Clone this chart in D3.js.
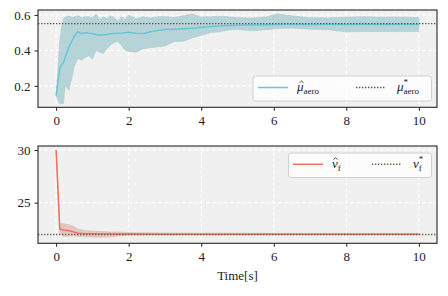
<!DOCTYPE html>
<html>
<head>
<meta charset="utf-8">
<script src="https://cdn.jsdelivr.net/npm/d3@7"></script>
<style>
  body { margin: 0; background: #fff; }
  svg { display: block; }
  svg text { font-family: "Liberation Serif", "Times New Roman", serif !important; fill: #222; }
</style>
</head>
<body>
<svg id="chart" width="448" height="296"></svg>
<script>
// ---- data ----
var muTime  = [0, 0.05, 0.1, 0.15, 0.2, 0.25, 0.3, 0.35, 0.4, 0.45, 0.5, 0.6, 0.7, 0.8, 0.9, 1.0, 1.1, 1.2, 1.3, 1.4, 1.5, 1.6, 1.7, 1.8, 1.9, 2.0, 2.2, 2.4, 2.6, 2.8, 3.0, 3.25, 3.5, 3.75, 4.0, 4.25, 4.5, 4.75, 5.0, 5.4, 5.8, 6.1, 6.5, 7.0, 7.5, 8.0, 8.5, 9.0, 9.5, 10.0];
var muMean  = [0.145, 0.22, 0.30, 0.32, 0.33, 0.36, 0.39, 0.42, 0.44, 0.46, 0.48, 0.505, 0.495, 0.50, 0.497, 0.495, 0.49, 0.485, 0.488, 0.49, 0.494, 0.496, 0.497, 0.498, 0.50, 0.502, 0.497, 0.495, 0.505, 0.512, 0.518, 0.52, 0.522, 0.525, 0.53, 0.535, 0.538, 0.54, 0.542, 0.543, 0.545, 0.546, 0.547, 0.546, 0.547, 0.546, 0.547, 0.546, 0.547, 0.546];
var muLow   = [0.145, 0.12, 0.10, 0.10, 0.10, 0.20, 0.19, 0.175, 0.22, 0.26, 0.31, 0.355, 0.345, 0.36, 0.37, 0.35, 0.40, 0.39, 0.383, 0.41, 0.43, 0.445, 0.45, 0.43, 0.40, 0.395, 0.39, 0.41, 0.415, 0.42, 0.425, 0.45, 0.452, 0.47, 0.485, 0.50, 0.505, 0.515, 0.518, 0.511, 0.517, 0.523, 0.526, 0.52, 0.516, 0.505, 0.507, 0.507, 0.506, 0.507];
var muHigh  = [0.15, 0.30, 0.45, 0.53, 0.575, 0.59, 0.59, 0.595, 0.59, 0.585, 0.59, 0.595, 0.585, 0.59, 0.59, 0.585, 0.605, 0.575, 0.59, 0.58, 0.595, 0.585, 0.565, 0.59, 0.575, 0.60, 0.58, 0.59, 0.583, 0.59, 0.592, 0.585, 0.595, 0.606, 0.589, 0.59, 0.593, 0.59, 0.585, 0.583, 0.59, 0.606, 0.595, 0.585, 0.583, 0.588, 0.59, 0.587, 0.588, 0.585];
var muTrue  = 0.551;

var vTime   = [0, 0.1, 0.2, 0.3, 0.4, 0.5, 0.6, 0.8, 1.0, 1.25, 1.5, 1.75, 2.0, 2.5, 3.0, 4.0, 5.0, 6.0, 7.0, 8.0, 9.0, 10.0];
var vMean   = [30.0, 22.5, 22.4, 22.35, 22.3, 22.2, 22.1, 22.05, 22.04, 22.02, 22.02, 22.02, 22.02, 22.01, 22.01, 22.01, 22.01, 22.01, 22.01, 22.01, 22.01, 22.01];
var vLow    = [30.0, 22.1, 21.8, 21.8, 21.85, 21.85, 21.8, 21.78, 21.75, 21.72, 21.76, 21.85, 21.92, 21.95, 21.95, 21.96, 21.96, 21.96, 21.96, 21.96, 21.96, 21.96];
var vHigh   = [30.0, 23.0, 23.0, 22.95, 22.85, 22.7, 22.5, 22.35, 22.3, 22.25, 22.22, 22.2, 22.15, 22.15, 22.12, 22.1, 22.1, 22.08, 22.08, 22.08, 22.08, 22.08];
var vTrue   = 21.97;

var xTicks    = [0, 2, 4, 6, 8, 10];
var muTicks   = [0.2, 0.4, 0.6];
var vTicks    = [25, 30];

var svg = d3.select("#chart");
var left = 38, right = 437;
var serif = "'Liberation Serif', 'Times New Roman', serif";

var x = d3.scaleLinear().domain([-0.5, 10.5]).range([left, right]);

function panel(top, bottom, yDomain, yTicks, yFmt, series) {
  var y = d3.scaleLinear().domain(yDomain).range([bottom, top]);
  var g = svg.append("g");

  g.append("rect")
      .attr("x", left).attr("y", top)
      .attr("width", right - left).attr("height", bottom - top)
      .attr("fill", "#f0f0f0");

  // grid
  g.append("g").selectAll("line").data(xTicks).enter().append("line")
      .attr("x1", function(d) { return x(d); }).attr("x2", function(d) { return x(d); })
      .attr("y1", top).attr("y2", bottom)
      .attr("stroke", "#fff").attr("stroke-width", 1).attr("stroke-dasharray", "4,2");
  g.append("g").selectAll("line").data(yTicks).enter().append("line")
      .attr("y1", function(d) { return y(d); }).attr("y2", function(d) { return y(d); })
      .attr("x1", left).attr("x2", right)
      .attr("stroke", "#fff").attr("stroke-width", 1).attr("stroke-dasharray", "4,2");

  var clip = "clip" + Math.round(top);
  svg.append("clipPath").attr("id", clip).append("rect")
      .attr("x", left).attr("y", top).attr("width", right - left).attr("height", bottom - top);
  var body = g.append("g").attr("clip-path", "url(#" + clip + ")");

  var idx = d3.range(series.time.length);
  body.append("path")
      .datum(idx)
      .attr("fill", series.band)
      .attr("stroke", series.bandEdge)
      .attr("stroke-width", 0.6)
      .attr("d", d3.area()
        .x(function(i) { return x(series.time[i]); })
        .y0(function(i) { return y(series.low[i]); })
        .y1(function(i) { return y(series.high[i]); }));

  body.append("path")
      .datum(idx)
      .attr("fill", "none")
      .attr("stroke", series.color)
      .attr("stroke-width", 1.5)
      .attr("d", d3.line()
        .x(function(i) { return x(series.time[i]); })
        .y(function(i) { return y(series.mean[i]); }));

  body.append("line")
      .attr("x1", left).attr("x2", right)
      .attr("y1", y(series.target)).attr("y2", y(series.target))
      .attr("stroke", series.dotColor).attr("stroke-width", 1.4)
      .attr("stroke-dasharray", "1.4,1.6");

  // axes
  var ax = g.append("g").attr("transform", "translate(0," + bottom + ")")
      .call(d3.axisBottom(x).tickValues(xTicks).tickSize(3.5).tickPadding(5).tickFormat(d3.format("d")));
  var ay = g.append("g").attr("transform", "translate(" + left + ",0)")
      .call(d3.axisLeft(y).tickValues(yTicks).tickSize(3.5).tickPadding(4).tickFormat(yFmt));
  [ax, ay].forEach(function(a) {
    a.attr("font-family", serif).attr("font-size", 13);
    a.select(".domain").remove();
    a.selectAll(".tick line").attr("stroke", "#222").attr("stroke-width", 1);
    a.selectAll(".tick text").attr("fill", "#222");
  });

  g.append("rect")
      .attr("x", left).attr("y", top)
      .attr("width", right - left).attr("height", bottom - top)
      .attr("fill", "none").attr("stroke", "#262626").attr("stroke-width", 1.1);

  return g;
}

panel(10, 107.3, [0.079, 0.628], muTicks, d3.format(".1f"), {
  time: muTime, mean: muMean, low: muLow, high: muHigh, target: muTrue,
  color: "#66c7d8", band: "#b6d3d7", bandEdge: "#a9cbd0", dotColor: "#555"
});

panel(146, 243.3, [21.14, 30.38], vTicks, d3.format("d"), {
  time: vTime, mean: vMean, low: vLow, high: vHigh, target: vTrue,
  color: "#ee7262", band: "#e3c6c3", bandEdge: "#dcbab6", dotColor: "#6b6a3c"
});

svg.append("text")
    .attr("x", (left + right) / 2).attr("y", 280)
    .attr("text-anchor", "middle").attr("font-size", 13)
    .attr("font-family", serif)
    .text("Time[s]");

// ---- legends ----
function mathLabel(g, xPos, yPos, sym, sub, hat, star, hatDx) {
  var t = g.append("text").attr("x", xPos).attr("y", yPos)
      .attr("font-size", 13).attr("font-family", serif);
  t.append("tspan").attr("font-style", "italic").text(sym);
  if (star) {
    t.append("tspan").attr("font-size", 9).attr("dy", -6).text("*");
    t.append("tspan").attr("font-size", 9).attr("dx", -4.5).attr("dy", 9).text(sub);
  } else {
    t.append("tspan").attr("font-size", 9).attr("dy", 3).text(sub);
  }
  if (hat) {
    // small circumflex accent drawn as a path
    var hx = xPos + hatDx, hy = yPos - 10;
    g.append("path")
        .attr("d", "M" + (hx - 2) + "," + (hy + 1.8) + "L" + hx + "," + hy + "L" + (hx + 2) + "," + (hy + 1.8))
        .attr("fill", "none").attr("stroke", "#222").attr("stroke-width", 0.8);
  }
}

function legend(x0, y0, w, h, color, dotColor, sym, sub, xs, hatDx) {
  var g = svg.append("g");
  g.append("rect")
      .attr("x", x0).attr("y", y0).attr("width", w).attr("height", h)
      .attr("rx", 2.5)
      .attr("fill", "#fff").attr("fill-opacity", 0.8)
      .attr("stroke", "#d0d0d0").attr("stroke-width", 1);
  var cy = y0 + h / 2 - 1;
  g.append("line").attr("x1", xs[0]).attr("x2", xs[0] + 30).attr("y1", cy).attr("y2", cy)
      .attr("stroke", color).attr("stroke-width", 1.5);
  mathLabel(g, xs[1], cy + 3.5, sym, sub, true, false, hatDx);
  g.append("line").attr("x1", xs[2]).attr("x2", xs[2] + 29).attr("y1", cy).attr("y2", cy)
      .attr("stroke", dotColor).attr("stroke-width", 1.4).attr("stroke-dasharray", "1.4,1.6");
  mathLabel(g, xs[3], cy + 3.5, sym, sub, false, true, hatDx);
}

legend(253, 76, 178.5, 25, "#66c7d8", "#555", "\u03bc", "aero", [258, 297, 356, 397], 4.5);
legend(288.5, 153, 143, 24.5, "#ee7262", "#6b6a3c", "v", "f", [293, 332, 372, 413], 3.5);
</script>
</body>
</html>
